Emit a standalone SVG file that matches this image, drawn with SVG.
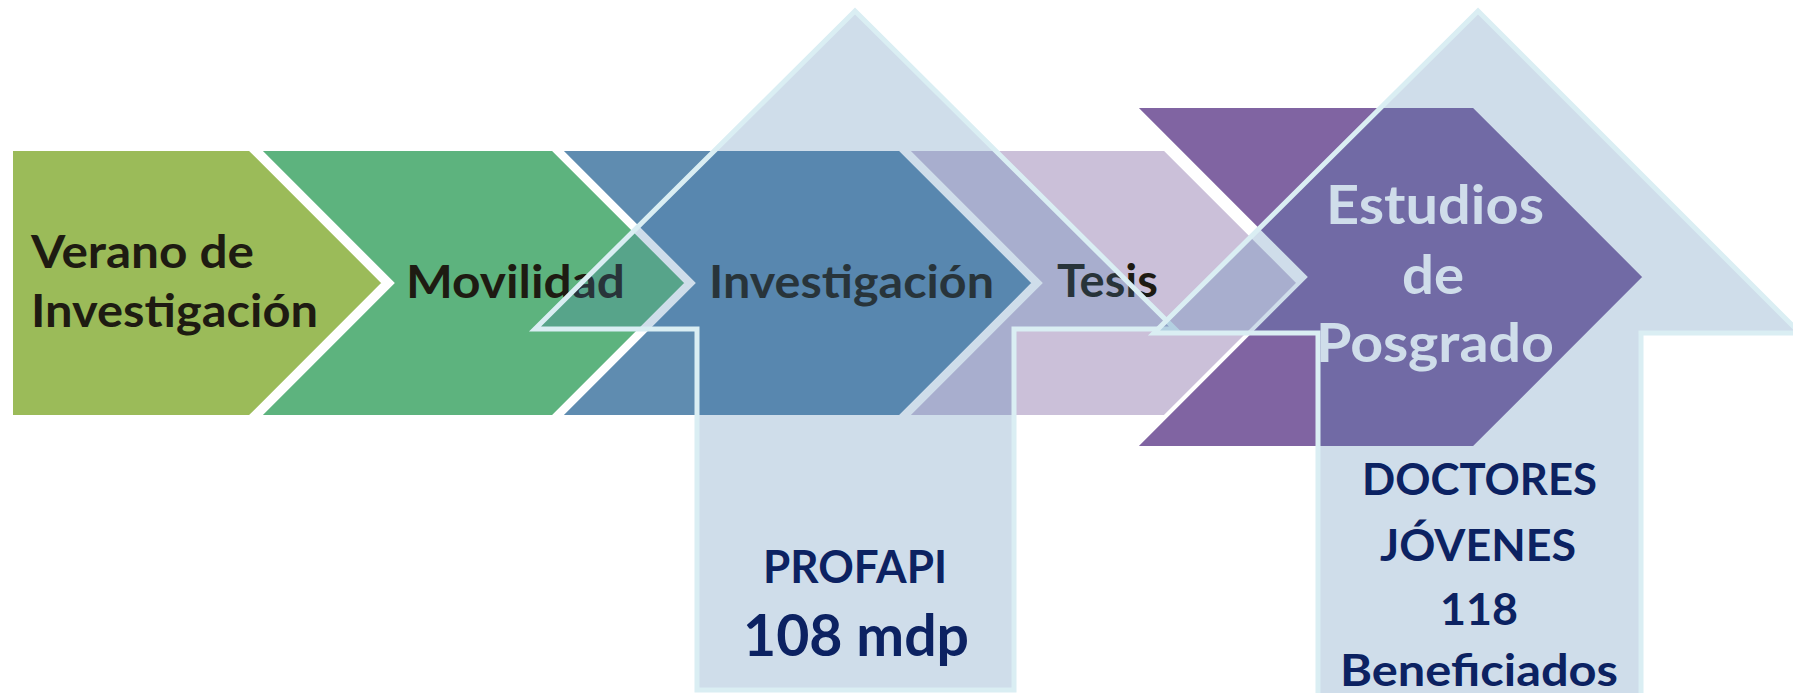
<svg xmlns="http://www.w3.org/2000/svg" width="1793" height="693" viewBox="0 0 1793 693">
<style>
.chev{stroke:#FFFFFF;stroke-width:4;stroke-linejoin:miter}
.arrow{fill:#467CAE;fill-opacity:0.26;stroke:#DAEEF3;stroke-width:5;stroke-linejoin:miter}
.t{font-family:Lato,"Open Sans","Liberation Sans",sans-serif;font-weight:bold}
.dark{fill:#1E1B12;font-size:46px}
.light{fill:#FFFFFF;font-size:54px}
.navy{fill:#0C2262}
</style>
<rect x="0" y="0" width="1793" height="693" fill="#FFFFFF"/>
<g id="verano">
<polygon class="chev" fill="#9BBB59" points="11,149 250,149 384,283 250,417 11,417"/>
<text class="t dark" x="31" y="268" textLength="223" lengthAdjust="spacingAndGlyphs">Verano de</text>
<text class="t dark" x="31" y="327" textLength="287" lengthAdjust="spacingAndGlyphs">Investigación</text>
</g>
<g id="movilidad">
<polygon class="chev" fill="#5DB37E" points="258,149 553,149 687,283 553,417 258,417 392,283"/>
<text class="t dark" x="406" y="298" textLength="219" lengthAdjust="spacingAndGlyphs">Movilidad</text>
</g>
<g id="investigacion">
<polygon class="chev" fill="#5F8CB0" points="559,149 900,149 1034,283 900,417 559,417 693,283"/>
<text class="t dark" x="709" y="298" textLength="285" lengthAdjust="spacingAndGlyphs">Investigación</text>
</g>
<g id="tesis">
<polygon class="chev" fill="#CBC0D9" points="906,149 1165,149 1299,283 1165,417 906,417 1040,283"/>
<text class="t dark" x="1057" y="297" textLength="101" lengthAdjust="spacingAndGlyphs">Tesis</text>
</g>
<g id="posgrado">
<polygon class="chev" fill="#8064A2" points="1134,106 1474,106 1645,277 1474,448 1134,448 1305,277"/>
<text class="t light" x="1326" y="224" textLength="218" lengthAdjust="spacingAndGlyphs">Estudios</text>
<text class="t light" x="1402" y="294" textLength="62" lengthAdjust="spacingAndGlyphs">de</text>
<text class="t light" x="1316" y="362" textLength="238" lengthAdjust="spacingAndGlyphs">Posgrado</text>
</g>
<g id="connectors"></g>
<g id="profapi">
<polygon class="arrow" points="855,11 1175,329 1014,329 1014,690 697,690 697,329 535,329"/>
<text class="t navy" x="763" y="583" font-size="46" textLength="184" lengthAdjust="spacingAndGlyphs">PROFAPI</text>
<text class="t navy" x="743" y="656" font-size="58" textLength="226" lengthAdjust="spacingAndGlyphs">108 mdp</text>
</g>
<g id="doctores">
<polygon class="arrow" points="1478,11 1800,333 1641,333 1641,698 1318,698 1318,333 1154,333"/>
<text class="t navy" x="1362" y="495" font-size="43" textLength="235" lengthAdjust="spacingAndGlyphs">DOCTORES</text>
<text class="t navy" x="1380" y="561" font-size="43" textLength="196" lengthAdjust="spacingAndGlyphs">JÓVENES</text>
<text class="t navy" x="1440" y="625" font-size="43" textLength="78" lengthAdjust="spacingAndGlyphs">118</text>
<text class="t navy" x="1340" y="686" font-size="43" textLength="278" lengthAdjust="spacingAndGlyphs">Beneficiados</text>
</g>
</svg>
